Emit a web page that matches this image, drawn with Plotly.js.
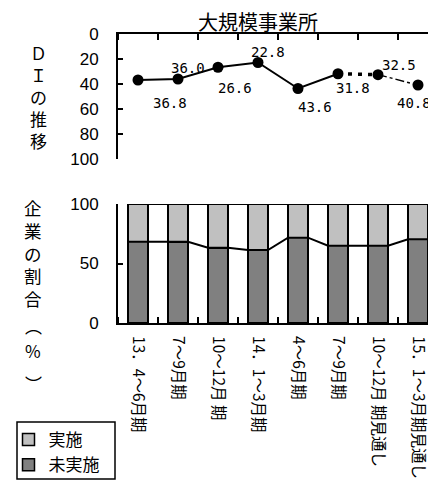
<!DOCTYPE html>
<html>
<head>
<meta charset="utf-8">
<script src="https://cdn.plot.ly/plotly-3.0.1.min.js"></script>
<style>
html,body{margin:0;padding:0;overflow:hidden;background:#fff;}
#chart{width:428px;height:484px;}
</style>
</head>
<body>
<div id="chart"></div>
<script>
// ---- data ----
const categories = ["13．4～6月期","7～9月期","10～12月 期","14．1～3月期","4～6月期","7～9月期","10～12月 期見通し","15．1～3月期見通し"];
const diValues = [36.8, 36.0, 26.6, 22.8, 43.6, 31.8, 32.5, 40.8];
const notImplemented = [68.3, 68.2, 63.2, 61.3, 71.7, 65.0, 65.0, 70.3];
const implemented = [31.7, 31.8, 36.8, 38.7, 28.3, 35.0, 35.0, 29.7];
const diTickVals = [0, 20, 40, 60, 80, 100];
const shareTickVals = [0, 50, 100];

// ---- style (label offsets in px) ----
const labelDx = [32, 10, 17, 10, 17, 15, 21, -4];
const labelDy = [-23, 11, -21, 10, -18, -14, 10, -18];

const idx = categories.map((_, i) => i);
const barWidth = 0.5;
const jp = '"Noto Sans CJK JP", sans-serif';
const lat = '"Liberation Sans", Arial, sans-serif';

const traces = [];
// DI line: solid actual, dotted + dashdot for forecasts
traces.push({x: idx.slice(0, 6), y: diValues.slice(0, 6), xaxis: 'x', yaxis: 'y', mode: 'lines',
  line: {color: '#000', width: 2}, showlegend: false, hoverinfo: 'skip'});
traces.push({x: idx.slice(5, 7), y: diValues.slice(5, 7), xaxis: 'x', yaxis: 'y', mode: 'lines',
  line: {color: '#000', width: 3.5, dash: '4px,6px'}, showlegend: false, hoverinfo: 'skip'});
traces.push({x: idx.slice(6, 8), y: diValues.slice(6, 8), xaxis: 'x', yaxis: 'y', mode: 'lines',
  line: {color: '#000', width: 1.5, dash: 'dashdot'}, showlegend: false, hoverinfo: 'skip'});
traces.push({x: idx, y: diValues, xaxis: 'x', yaxis: 'y', mode: 'markers',
  marker: {color: '#000', size: 11}, showlegend: false, hoverinfo: 'skip', cliponaxis: false});

// stacked bars
traces.push({type: 'bar', name: '未実施', x: idx, y: notImplemented, xaxis: 'x2', yaxis: 'y2',
  width: barWidth, marker: {color: '#808080', line: {color: '#000', width: 1.5}}});
traces.push({type: 'bar', name: '実施', x: idx, y: implemented, xaxis: 'x2', yaxis: 'y2',
  width: barWidth, marker: {color: '#c0c0c0', line: {color: '#000', width: 1.5}}});

// connector line along tops of 未実施 bars
const cx = [], cy = [];
idx.forEach(i => { cx.push(i - barWidth / 2, i + barWidth / 2); cy.push(notImplemented[i], notImplemented[i]); });
traces.push({x: cx, y: cy, xaxis: 'x2', yaxis: 'y2', mode: 'lines', line: {color: '#000', width: 2},
  showlegend: false, hoverinfo: 'skip'});

const annotations = diValues.map((v, i) => ({
  x: i, y: v, xref: 'x', yref: 'y', text: v.toFixed(1), showarrow: false,
  xshift: labelDx[i], yshift: labelDy[i],
  font: {family: '"DejaVu Sans Mono", monospace', size: 14, color: '#000'}
}));
const pAnn = (txt, px, py, size) => ({xref: 'paper', yref: 'paper', x: px / 428, y: 1 - py / 484,
  xanchor: 'center', yanchor: 'middle', text: txt, showarrow: false, font: {family: jp, size: size, color: '#000'}});
annotations.push(pAnn('Ｄ<br>Ｉ<br>の<br>推<br>移', 38, 96.5, 17));
annotations.push(pAnn('企<br>業<br>の<br>割<br>合', 33, 253.5, 17.5));
annotations.push(pAnn('︵', 33, 325, 17));
annotations.push(pAnn('%', 33, 350, 17));
annotations.push(pAnn('︶', 33, 383, 17));

const xCommon = {range: [-0.5, 7.25], domain: [118 / 428, 1], showgrid: false, zeroline: false,
  showline: true, linecolor: '#000', linewidth: 2, fixedrange: true,
  minor: {tickmode: 'linear', tick0: 0.5, dtick: 1, ticks: 'inside', ticklen: 6, tickwidth: 2, tickcolor: '#000', showgrid: false}};
const yCommon = {showgrid: false, zeroline: false, showline: true, linecolor: '#000', linewidth: 2,
  ticks: 'inside', ticklen: 5, tickwidth: 2, tickcolor: '#000', tickmode: 'array',
  tickfont: {family: lat, size: 17, color: '#000'}, ticklabelstandoff: 14, fixedrange: true};

const layout = {
  width: 428, height: 484,
  margin: {l: 0, r: 0, t: 0, b: 0},
  paper_bgcolor: '#fff', plot_bgcolor: '#fff',
  title: {text: '大規模事業所', x: 258 / 428, xanchor: 'center', y: 1 - 23 / 484, yanchor: 'middle',
    font: {family: jp, size: 20, color: '#000'}},
  barmode: 'stack',
  xaxis: Object.assign({}, xCommon, {anchor: 'y', side: 'top', showticklabels: false, ticks: ''}),
  yaxis: Object.assign({}, yCommon, {domain: [1 - 159 / 484, 1 - 34 / 484], range: [100, 0], tickvals: diTickVals, anchor: 'x'}),
  xaxis2: Object.assign({}, xCommon, {anchor: 'y2', side: 'bottom', ticks: '', tickmode: 'array', tickvals: idx, ticktext: categories,
    tickangle: 90, tickfont: {family: jp, size: 15.5, color: '#000'}, ticklabelstandoff: 8, ticklabeloverflow: 'allow'}),
  yaxis2: Object.assign({}, yCommon, {domain: [1 - 323 / 484, 1 - 204 / 484], range: [0, 100], tickvals: shareTickVals, anchor: 'x2'}),
  shapes: [
    {type: 'line', xref: 'x2', yref: 'y2', x0: -barWidth / 2, x1: 7.25, y0: 100, y1: 100, line: {color: '#000', width: 2}},
    {type: 'rect', xref: 'paper', yref: 'paper', x0: 17 / 428, x1: 115 / 428, y0: 1 - 479 / 484, y1: 1 - 422 / 484,
      line: {color: '#000', width: 1.5}, fillcolor: 'rgba(0,0,0,0)'}
  ],
  annotations: annotations,
  showlegend: true,
  legend: {x: 8.5 / 428, y: 1 - 422 / 484, xanchor: 'left', yanchor: 'top', traceorder: 'reversed',
    borderwidth: 0, bgcolor: 'rgba(0,0,0,0)',
    font: {family: jp, size: 17, color: '#000'}}
};

Plotly.newPlot('chart', traces, layout, {staticPlot: true, displayModeBar: false});
</script>
</body>
</html>
